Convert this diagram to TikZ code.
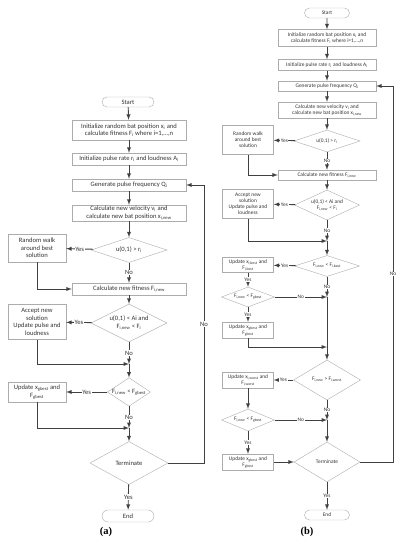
\documentclass[tikz,border=0pt]{standalone}
\usepackage{fontspec}
\setmainfont{Carlito}
\newfontfamily\capfont{Liberation Serif}
\usepackage{tikz}
\usetikzlibrary{shapes.geometric,shapes.misc}

\begin{document}
\begin{tikzpicture}[x=1pt, y=-1pt, >=latex,
    box/.style={draw=gray!65, rectangle, align=center, inner sep=0.5pt, text=black!80},
    term/.style={draw=gray!65, rounded rectangle, inner sep=0pt, text=black!80},
    dec/.style={draw=gray!65, diamond, align=center, inner sep=0pt, text=black!80},
    fa/.style={font=\fontsize{6.6}{7.4}\selectfont},
    fb/.style={font=\fontsize{5.4}{6.1}\selectfont},
    boxa/.style={box, fa, minimum width=114pt},
    sidea/.style={box, fa, minimum width=58pt},
    boxb/.style={box, fb, minimum width=98pt},
    sideb/.style={box, fb, minimum width=51pt},
    lbl/.style={fill=white, inner sep=0.6pt, text=black!80},
    flow/.style={line width=0.9pt, draw=black!75},
    capt/.style={font=\capfont\bfseries\fontsize{10.5}{12}\selectfont}]
    \useasboundingbox (0,0) rectangle (406,550);

    % ---------------- (a) ----------------
    % Main column
    \node[term, fa, minimum width=52pt, minimum height=10pt] (sA) at (128,102) {Start};
    \node[boxa, minimum height=20pt] (iA) at (129,130) {Initialize random bat position x\textsubscript{i} and\\calculate fitness F\textsubscript{i} where i=1,\ldots,n};
    \node[boxa, minimum height=12pt] (pA) at (129,159) {Initialize pulse rate r\textsubscript{i} and loudness A\textsubscript{i}};
    \node[boxa, minimum height=12pt] (gA) at (129,185) {Generate pulse frequency Q\textsubscript{i}};
    \node[boxa, minimum height=16pt] (vA) at (129,213) {Calculate new velocity v\textsubscript{i} and\\calculate new bat position x\textsubscript{i,new}};
    \node[dec, fa, aspect=3, minimum width=76pt, minimum height=25pt] (d1A) at (129,250) {u(0,1) > r\textsubscript{i}};
    \node[boxa, minimum height=12pt] (fA) at (129,289) {Calculate new fitness F\textsubscript{i,new}};
    \node[dec, fa, aspect=2, minimum width=76pt, minimum height=38pt] (d2A) at (129,323) {u(0,1) < Ai and\\F\textsubscript{i,new} < F\textsubscript{i}};
    \node[dec, fa, aspect=1.5, minimum width=43pt, minimum height=27pt] (d3A) at (129,392) {F\textsubscript{i,new} < F\textsubscript{gbest}};
    \node[dec, fa, aspect=2, minimum width=78pt, minimum height=43pt] (tA) at (129,463) {Terminate};
    \node[term, fa, minimum width=52pt, minimum height=12pt] (eA) at (128,516) {End};

    % Side boxes
    \node[sidea, minimum height=28pt] (rA) at (37,248) {Random walk\\around best\\solution};
    \node[sidea, minimum height=35pt] (aA) at (37,322) {Accept new\\solution\\Update pulse and\\loudness};
    \node[sidea, minimum height=20pt] (uA) at (37,392) {Update x\textsubscript{gbest} and\\F\textsubscript{gbest}};

    \coordinate (j1A) at (129,364);
    \coordinate (j2A) at (129,428);
    \coordinate (l1A) at (204,463);
    \coordinate (l2A) at (204,185);

    % Connections
    \draw[->, flow] (sA) -- (iA);
    \draw[->, flow] (iA) -- (pA);
    \draw[->, flow] (pA) -- (gA);
    \draw[->, flow] (gA) -- (vA);
    \draw[->, flow] (vA) -- (d1A);
    \draw[->, flow] (d1A) -- node[lbl, fa]{Yes} (rA);
    \draw[->, flow] (d1A) -- node[lbl, fa]{No} (fA);
    \draw[->, flow] (rA.south) |- (fA.west);
    \draw[->, flow] (fA) -- (d2A);
    \draw[->, flow] (d2A) -- node[lbl, fa]{Yes} (aA);
    \draw[->, flow] (d2A) -- node[lbl, fa]{No} (j1A);
    \draw[->, flow] (aA.south) |- (j1A);
    \draw[->, flow] (j1A) -- (d3A);
    \draw[->, flow] (d3A) -- node[lbl, fa]{Yes} (uA);
    \draw[->, flow] (d3A) -- node[lbl, fa]{No} (j2A);
    \draw[->, flow] (uA.south) |- (j2A);
    \draw[->, flow] (j2A) -- (tA);
    \draw[->, flow] (tA) -- node[lbl, fa]{Yes} (eA);
    \draw[->, flow] (tA.east) -- (l1A) -- node[lbl, fa]{No} (l2A) -- (gA.east);

    \node[capt] (capA) at (106,532) {(a)};

    % ---------------- (b) ----------------
    % Main column
    \node[term, fb, minimum width=45pt, minimum height=10pt] (sB) at (327,13) {Start};
    \node[boxb, minimum height=17pt] (iB) at (327,38) {Initialize random bat position x\textsubscript{i} and\\calculate fitness F\textsubscript{i} where i=1,\ldots,n};
    \node[boxb, minimum height=11pt] (pB) at (327,65) {Initialize pulse rate r\textsubscript{i} and loudness A\textsubscript{i}};
    \node[boxb, minimum height=10pt] (gB) at (327,86) {Generate pulse frequency Q\textsubscript{i}};
    \node[boxb, minimum height=16pt] (vB) at (327,110) {Calculate new velocity v\textsubscript{i} and\\calculate new bat position x\textsubscript{i,new}};
    \node[dec, fb, aspect=3, minimum width=66pt, minimum height=22pt] (d1B) at (327,141) {u(0,1) > r\textsubscript{i}};
    \node[boxb, minimum height=10pt] (fB) at (327,175) {Calculate new fitness F\textsubscript{i,new}};
    \node[dec, fb, aspect=2, minimum width=65pt, minimum height=30pt] (d2B) at (327,205) {u(0,1) < Ai and\\F\textsubscript{i,new} < F\textsubscript{i}};
    \node[dec, fb, aspect=3, minimum width=65pt, minimum height=21pt] (d3B) at (327,266) {F\textsubscript{i,new} < F\textsubscript{i,best}};
    \node[dec, fb, aspect=2, minimum width=67pt, minimum height=40pt] (d5B) at (327,380) {F\textsubscript{i,new} > F\textsubscript{i,worst}};
    \node[dec, fb, aspect=2, minimum width=66pt, minimum height=40pt] (tB) at (327,462) {Terminate};
    \node[term, fb, minimum width=45pt, minimum height=10pt] (eB) at (327,515) {End};

    % Side column
    \node[sideb, minimum height=29pt] (rB) at (248,140) {Random walk\\around best\\solution};
    \node[sideb, minimum height=29pt] (aB) at (248,204) {Accept new\\solution\\Update pulse and\\loudness};
    \node[sideb, minimum height=15pt] (ubB) at (248,265) {Update x\textsubscript{i,best} and\\F\textsubscript{i,best}};
    \node[dec, fb, aspect=2.6, minimum width=53pt, minimum height=20pt] (d4B) at (248,297) {F\textsubscript{i,new} < F\textsubscript{gbest}};
    \node[sideb, minimum height=16pt] (ugB) at (248,330) {Update x\textsubscript{gbest} and\\F\textsubscript{gbest}};
    \node[sideb, minimum height=16pt] (uwB) at (248,380) {Update x\textsubscript{i,worst} and\\F\textsubscript{i,worst}};
    \node[dec, fb, aspect=2.6, minimum width=53pt, minimum height=22pt] (d6B) at (248,420) {F\textsubscript{i,new} < F\textsubscript{gbest}};
    \node[sideb, minimum height=16pt] (ug2B) at (248,462) {Update x\textsubscript{gbest} and\\F\textsubscript{gbest}};

    \coordinate (j1B) at (327,241);
    \coordinate (j2B) at (327,297);
    \coordinate (j3B) at (327,347);
    \coordinate (j4B) at (327,420);
    \coordinate (l1B) at (393,462);
    \coordinate (l2B) at (393,86);

    % Connections
    \draw[->, flow] (sB) -- (iB);
    \draw[->, flow] (iB) -- (pB);
    \draw[->, flow] (pB) -- (gB);
    \draw[->, flow] (gB) -- (vB);
    \draw[->, flow] (vB) -- (d1B);
    \draw[->, flow] (d1B) -- node[lbl, fb]{Yes} (rB);
    \draw[->, flow] (d1B) -- node[lbl, fb]{No} (fB);
    \draw[->, flow] (rB.south) |- (fB.west);
    \draw[->, flow] (fB) -- (d2B);
    \draw[->, flow] (d2B) -- node[lbl, fb]{Yes} (aB);
    \draw[->, flow] (d2B) -- node[lbl, fb]{No} (j1B);
    \draw[->, flow] (aB.south) |- (j1B);
    \draw[->, flow] (j1B) -- (d3B);
    \draw[->, flow] (d3B) -- node[lbl, fb]{Yes} (ubB);
    \draw[->, flow] (ubB) -- node[lbl, fb]{Yes} (d4B);
    \draw[->, flow] (d3B) -- node[lbl, fb]{No} (j2B);
    \draw[->, flow] (d4B) -- node[lbl, fb]{No} (j2B);
    \draw[->, flow] (d4B) -- node[lbl, fb]{Yes} (ugB);
    \draw[->, flow] (ugB.south) |- (j3B);
    \draw[flow] (j2B) -- (j3B);
    \draw[->, flow] (j3B) -- (d5B);
    \draw[->, flow] (d5B) -- node[lbl, fb]{Yes} (uwB);
    \draw[->, flow] (uwB) -- (d6B);
    \draw[->, flow] (d5B) -- node[lbl, fb]{No} (j4B);
    \draw[->, flow] (d6B) -- node[lbl, fb]{No} (j4B);
    \draw[->, flow] (j4B) -- (tB);
    \draw[->, flow] (d6B) -- node[lbl, fb]{Yes} (ug2B);
    \draw[->, flow] (ug2B) -- (tB);
    \draw[->, flow] (tB) -- node[lbl, fb]{Yes} (eB);
    \draw[->, flow] (tB.east) -- (l1B) -- node[lbl, fb]{No} (l2B) -- (gB.east);

    \node[capt] (capB) at (307,532) {(b)};
\end{tikzpicture}
\end{document}
